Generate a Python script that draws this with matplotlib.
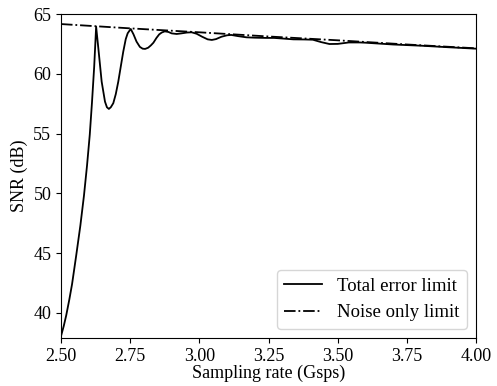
import matplotlib
matplotlib.use("Agg")
from matplotlib import pyplot as plt

plt.rcParams['font.family'] = ['Liberation Serif', 'DejaVu Serif']

# total error limit
rate = [2.500, 2.510, 2.519, 2.530, 2.540, 2.555, 2.570, 2.583, 2.594, 2.604,
        2.612, 2.620, 2.627, 2.635, 2.647, 2.659, 2.666, 2.673, 2.680, 2.689,
        2.698, 2.707, 2.716, 2.725, 2.734, 2.741, 2.752, 2.762, 2.773, 2.785,
        2.795, 2.804, 2.815, 2.825, 2.834, 2.845, 2.855, 2.864, 2.875, 2.888,
        2.900, 2.918, 2.935, 2.955, 2.972, 2.990, 3.010, 3.030, 3.045, 3.060,
        3.080, 3.100, 3.115, 3.140, 3.170, 3.200, 3.240, 3.270, 3.300, 3.340,
        3.380, 3.410, 3.440, 3.470, 3.500, 3.540, 3.580, 3.600, 3.700, 3.800,
        3.900, 4.000]
snr_total = [38.05, 38.9, 39.8, 41.1, 42.4, 44.8, 47.3, 49.8, 52.3, 54.9,
             57.6, 60.6, 63.94, 62.13, 59.34, 57.67, 57.2, 57.06, 57.2, 57.54,
             58.3, 59.34, 60.6, 61.85, 62.9, 63.39, 63.75, 63.3, 62.69, 62.25,
             62.1, 62.08, 62.18, 62.38, 62.6, 63.0, 63.3, 63.45, 63.55, 63.5,
             63.38, 63.33, 63.38, 63.45, 63.47, 63.35, 63.1, 62.88, 62.83, 62.9,
             63.1, 63.22, 63.25, 63.15, 63.05, 63.02, 63.0, 63.0, 62.95, 62.88,
             62.87, 62.85, 62.65, 62.49, 62.5, 62.62, 62.62, 62.6, 62.45, 62.35,
             62.22, 62.1]

# noise only limit
rate_noise = [2.50, 2.75, 3.00, 3.25, 3.50, 3.75, 4.00]
snr_noise = [64.16, 63.8, 63.47, 63.12, 62.8, 62.45, 62.13]

fig = plt.figure(figsize=(4.97, 3.86), dpi=100)
ax = fig.add_axes([0.1227, 0.1244, 0.8353, 0.8393])
ax.plot(rate, snr_total, color='black', lw=1.3, label='Total error limit')
ax.plot(rate_noise, snr_noise, color='black', lw=1.3, ls='-.', label='Noise only limit')
ax.set_xlim(2.5, 4.0)
ax.set_ylim(37.9, 65)
ax.set_xticks([2.50, 2.75, 3.00, 3.25, 3.50, 3.75, 4.00])
ax.set_xticklabels(['2.50', '2.75', '3.00', '3.25', '3.50', '3.75', '4.00'])
ax.set_yticks([40, 45, 50, 55, 60, 65])
ax.tick_params(labelsize=13)
ax.set_xlabel('Sampling rate (Gsps)', fontsize=13, labelpad=0)
ax.set_ylabel('SNR (dB)', fontsize=13)
ax.legend(loc='lower right', fontsize=13.5)
fig.savefig('out.png', dpi=100)
